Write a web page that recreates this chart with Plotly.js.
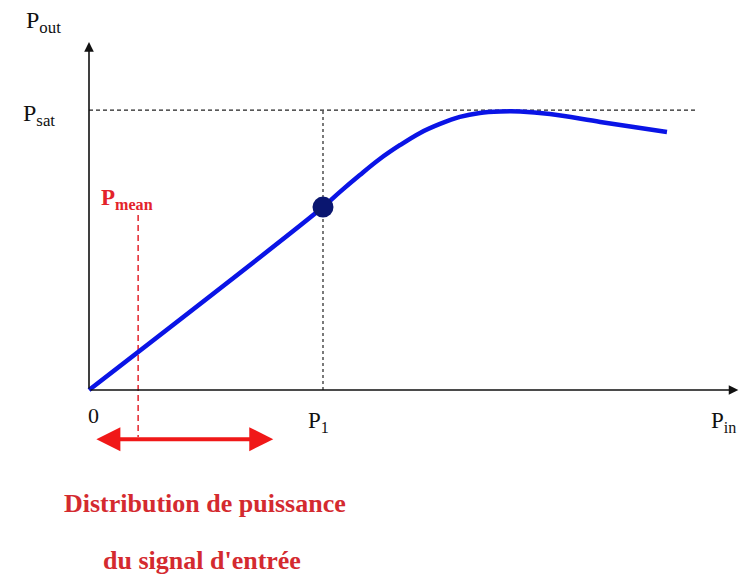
<!DOCTYPE html>
<html>
<head>
<meta charset="utf-8">
<script src="https://cdn.plot.ly/plotly-3.0.1.min.js"></script>
<style>html,body{margin:0;padding:0;background:#fff;}#chart{width:739px;height:578px;}</style>
</head>
<body>
<div id="chart"></div>
<script>
// Transfer characteristic Pout = f(Pin) (arbitrary units)
const pin  = [0, 4, 4.29, 4.63, 4.97, 5.32, 5.66, 6.0, 6.34, 6.68, 7.03, 7.37, 7.88, 8.74, 9.88];
const pout = [0, 6.51, 7.05, 7.65, 8.22, 8.72, 9.15, 9.47, 9.72, 9.86, 9.91, 9.91, 9.82, 9.54, 9.18];
const P1 = 4, P1out = 6.51;
const Psat = 9.96;
const Pmean = 0.84;
const distStart = 0.10, distEnd = 3.15;
const tickLabels = {zero: "0", p1: "P<sub>1</sub>", pin: "P<sub>in</sub>", pout: "P<sub>out</sub>", psat: "P<sub>sat</sub>", pmean: "P<sub>mean</sub>"};
const noteLines = ["Distribution de puissance", "du signal d'entrée"];

const red = "#e3232b";
const serif = "Liberation Serif, Times New Roman, serif";

const traces = [
  {x: [0, 10.36], y: [Psat, Psat], mode: "lines", line: {color: "#222", width: 1.2, dash: "4px,3px"}, hoverinfo: "skip"},
  {x: [P1, P1], y: [0, Psat], mode: "lines", line: {color: "#222", width: 1.2, dash: "3px,3px"}, hoverinfo: "skip"},
  {x: [Pmean, Pmean], y: [6.23, -1.67], mode: "lines", line: {color: red, width: 1.5, dash: "6px,4px"}, hoverinfo: "skip"},
  {x: pin, y: pout, mode: "lines", line: {color: "#0a14e6", width: 4.5, shape: "spline", smoothing: 1}},
  {x: [P1], y: [P1out], mode: "markers", marker: {color: "#0a1670", size: 21}}
];

const ann = [];
// axes with arrows
ann.push({x: 0, y: 12.38, ax: 0, ay: 0, xref: "x", yref: "y", axref: "x", ayref: "y", showarrow: true, arrowhead: 2, arrowsize: 1.2, arrowwidth: 1.6, arrowcolor: "#111", text: ""});
ann.push({x: 11.1, y: 0, ax: 0, ay: 0, xref: "x", yref: "y", axref: "x", ayref: "y", showarrow: true, arrowhead: 2, arrowsize: 1.2, arrowwidth: 1.6, arrowcolor: "#111", text: ""});
// distribution double arrow
ann.push({x: distEnd, y: -1.75, ax: distStart, ay: -1.75, xref: "x", yref: "y", axref: "x", ayref: "y", showarrow: true, arrowhead: 2, arrowside: "end+start", arrowsize: 1.2, arrowwidth: 4, arrowcolor: "#f01818", text: ""});
// labels
const lab = (x, y, t, size, extra) => Object.assign({x: x, y: y, xref: "x", yref: "y", xanchor: "center", yanchor: "middle", text: t, showarrow: false, font: {family: serif, size: size, color: "#111"}}, extra || {});
ann.push(lab(-0.78, 13.1, tickLabels.pout, 24));
ann.push(lab(-0.85, 9.8, tickLabels.psat, 24));
ann.push(lab(0.07, -0.9, tickLabels.zero, 22));
ann.push(lab(3.92, -1.15, tickLabels.p1, 23));
ann.push(lab(10.6, -1.15, tickLabels.pin, 23, {xanchor: "left"}));
ann.push(lab(0.65, 6.8, "<b>" + tickLabels.pmean + "</b>", 23, {font: {family: serif, size: 23, color: red}}));
ann.push({xref: "paper", yref: "paper", x: 205/739, y: 1 - 503/578, xanchor: "center", yanchor: "middle", text: "<b>" + noteLines[0] + "</b>", showarrow: false, font: {family: serif, size: 26, color: "#d42a2f"}});
ann.push({xref: "paper", yref: "paper", x: 202/739, y: 1 - 560/578, xanchor: "center", yanchor: "middle", text: "<b>" + noteLines[1] + "</b>", showarrow: false, font: {family: serif, size: 26, color: "#d42a2f"}});

const layout = {
  width: 739, height: 578,
  margin: {l: 0, r: 0, t: 0, b: 0},
  paper_bgcolor: "#fff", plot_bgcolor: "#fff",
  showlegend: false,
  xaxis: {range: [-89/58.5, 650/58.5], visible: false, fixedrange: true},
  yaxis: {range: [-188/28.1, 390/28.1], visible: false, fixedrange: true},
  annotations: ann
};
Plotly.newPlot("chart", traces, layout, {displayModeBar: false, staticPlot: true});
</script>
</body>
</html>
